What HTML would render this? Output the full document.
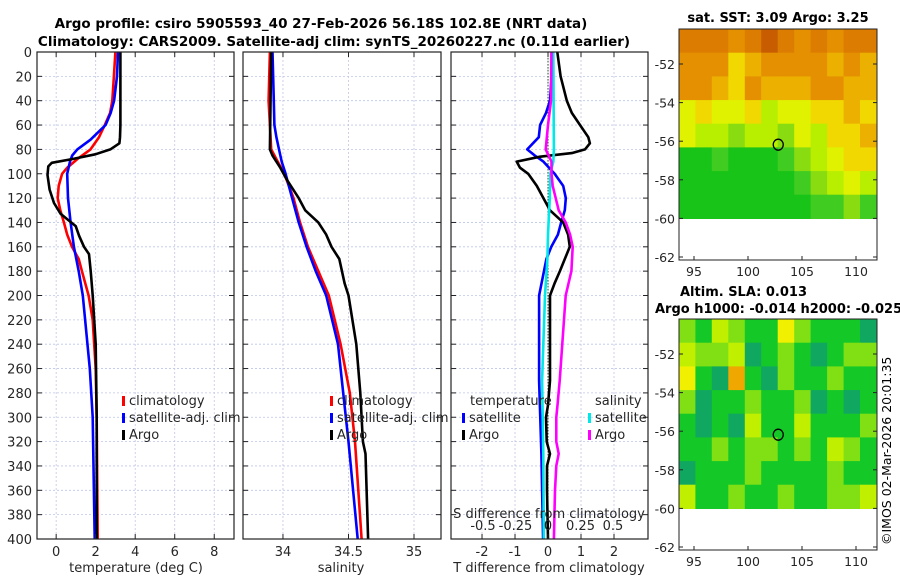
<!DOCTYPE html>
<html><head><meta charset="utf-8">
<style>
html,body{margin:0;padding:0;background:#fff;}
svg{display:block;font-family:"DejaVu Sans","Liberation Sans",sans-serif;}
</style></head>
<body>
<svg id="chart" width="900" height="580" viewBox="0 0 900 580" xmlns="http://www.w3.org/2000/svg">
<text x="321" y="28" text-anchor="middle" font-size="13.5" font-weight="bold">Argo profile: csiro 5905593_40 27-Feb-2026 56.18S 102.8E (NRT data)</text>
<text x="334" y="46" text-anchor="middle" font-size="13.5" font-weight="bold">Climatology: CARS2009. Satellite-adj clim: synTS_20260227.nc (0.11d earlier)</text>
<text x="778" y="22" text-anchor="middle" font-size="13" font-weight="bold">sat. SST: 3.09 Argo: 3.25</text>
<text x="680" y="296" font-size="13" font-weight="bold">Altim. SLA: 0.013</text>
<text x="655" y="313" font-size="13" font-weight="bold">Argo h1000: -0.014 h2000: -0.025</text>
<text transform="translate(891,545) rotate(-90)" font-size="12.5">©IMOS 02-Mar-2026 20:01:35</text>
<g id="plots"></g>
</svg>
<script>
// ---- data ----
const depthsT = [0,20,40,50,60,70,75,80,84,88,91,94,101,113,124,133,143,151,160,166,180,200,240,300,400];
const argoTemp = [3.25,3.25,3.25,3.25,3.25,3.23,3.2,2.74,1.98,0.8,-0.22,-0.4,-0.44,-0.33,-0.11,0.23,0.99,1.16,1.41,1.66,1.75,1.85,2.0,2.05,2.05];
const climDepths = [0,20,40,50,60,70,80,88,95,100,110,120,130,140,150,160,170,180,200,220,260,300,400];
const climTemp = [3.0,2.92,2.84,2.73,2.46,2.17,1.74,1.07,0.56,0.3,0.13,0.08,0.21,0.39,0.56,0.8,1.14,1.3,1.64,1.85,2.0,2.05,2.1];
const satDepths = [0,20,40,50,60,72,80,85,90,100,120,140,160,180,200,260,300,400];
const satTemp = [3.13,3.08,2.93,2.76,2.5,1.74,1.07,0.81,0.7,0.56,0.6,0.73,0.9,1.14,1.35,1.7,1.85,1.95];

const argoSalDepths = [0,80,85,95,105,120,130,140,150,160,170,190,200,240,280,320,330,400];
const argoSal = [33.91,33.9,33.92,33.98,34.03,34.12,34.17,34.27,34.33,34.37,34.43,34.47,34.5,34.56,34.59,34.61,34.63,34.65];
const climSalDepths = [0,40,80,90,100,120,140,160,180,200,240,280,320,400];
const climSal = [33.9,33.89,33.91,33.96,34.01,34.08,34.13,34.19,34.27,34.35,34.44,34.51,34.55,34.6];
const satSalDepths = [0,40,60,70,80,90,100,120,140,160,180,200,240,280,320,400];
const satSal = [33.92,33.93,33.935,33.95,33.97,33.99,34.02,34.07,34.12,34.18,34.25,34.33,34.42,34.46,34.5,34.57];

const diffDepthsA = [0,20,40,50,60,70,75,80,83,86,90,95,100,110,120,130,140,150,160,170,180,190,200,270,290,300,320,330,340,360,400];
const argoTDiff = [0.28,0.38,0.57,0.72,0.97,1.22,1.27,1.12,0.72,-0.24,-0.95,-0.85,-0.6,-0.34,-0.14,0.06,0.46,0.61,0.66,0.51,0.36,0.2,0.06,0.06,0,-0.06,-0.04,0.06,-0.03,-0.03,0];
const diffDepthsS = [0,40,60,80,90,100,110,130,140,150,160,180,200,270,290,300,320,330,340,360,400];
const argoSDiff = [0.027,0.023,0,-0.018,0.027,0.027,0.036,0.082,0.136,0.17,0.19,0.18,0.136,0.09,0.073,0.064,0.064,0.082,0.064,0.054,0.045];
const satSDepths = [0,40,80,90,100,120,150,170,200,270,330,400];
const satSDiff = [0.041,0.043,0.045,0.041,0.018,0.014,0,-0.005,-0.023,-0.045,-0.036,-0.032];
const satTDepths = [0,20,40,50,60,70,80,85,90,100,110,120,130,140,150,160,170,200,270,330,400];
const satTDiff = [0.11,0.11,0.06,-0.06,-0.24,-0.28,-0.63,-0.4,-0.14,0.2,0.46,0.54,0.51,0.4,0.3,0.1,-0.05,-0.27,-0.27,-0.2,-0.15];

const depthTicks = [0,20,40,60,80,100,120,140,160,180,200,220,240,260,280,300,320,340,360,380,400];
const tempTicks = [0,2,4,6,8];
const salTicks = [34,34.5,35];
const salTickLabels = ['34','34.5','35'];
const tdiffTicks = [-2,-1,0,1,2];
const sdiffTicks = [-0.5,-0.25,0,0.25,0.5];
const sdiffTickLabels = ['-0.5','-0.25','0','0.25','0.5'];
const lonTicks = [95,100,105,110];
const latTicks = [-52,-54,-56,-58,-60,-62];
const argoLon = 102.8, argoLat = -56.18;

const sstGrid = [
 [8,8,8,7,8,9,8,7,8,7,8,8],
 [7,7,7,5,6,7,7,7,7,6,7,6],
 [7,7,6,5,7,6,6,6,7,7,6,6],
 [4,5,4,4,5,3,4,4,5,5,6,5],
 [4,3,3,2,3,3,2,4,3,5,5,6],
 [0,0,1,0,0,0,1,2,3,4,5,5],
 [0,0,0,0,0,0,0,1,2,3,4,3],
 [0,0,0,0,0,0,0,0,1,1,2,1]];
const slaGrid = [
 [2,1,3,2,1,1,4,2,1,1,1,0],
 [3,2,2,3,0,1,2,1,0,1,2,2],
 [4,1,0,5,1,0,2,1,1,2,1,1],
 [2,0,1,1,2,1,1,2,0,1,0,1],
 [1,0,1,0,3,1,1,3,1,1,1,2],
 [1,1,2,1,2,2,1,2,1,3,2,1],
 [0,1,1,1,2,1,1,1,1,2,1,1],
 [3,1,1,2,1,1,2,1,1,2,2,3]];

// ---- drawing ----
const NS='http://www.w3.org/2000/svg';
const root=document.getElementById('plots');
function mk(tag,attrs,parent){const e=document.createElementNS(NS,tag);for(const k in attrs)e.setAttribute(k,attrs[k]);(parent||root).appendChild(e);return e;}
const Y0=52,Y1=539;
const yD=d=>Y0+(d/400)*(Y1-Y0);
function lin(d0,d1,r0,r1){return v=>r0+(v-d0)/(d1-d0)*(r1-r0);}

function panel(name,x0,x1,xs,ticks){
  const g=mk('g',{});
  
  
  depthTicks.forEach(d=>{const l=mk('line',{x1:x0,x2:x1,y1:yD(d),y2:yD(d),stroke:'#bcc6ea','stroke-width':0.8,'stroke-dasharray':'2,2'},g);});
  ticks.forEach(t=>{const l=mk('line',{x1:xs(t),x2:xs(t),y1:Y0,y2:Y1,stroke:'#c4c4e6','stroke-width':0.8,'stroke-dasharray':'2,2'},g);});
  return g;
}
function frame(g,x0,x1,xs,ticks,labels,showY,labelY){
  const r=mk('rect',{x:x0,y:Y0,width:x1-x0,height:Y1-Y0,fill:'none',stroke:'#222','stroke-width':1.2},g);
  
  depthTicks.forEach(d=>{
    mk('line',{x1:x0,x2:x0+5,y1:yD(d),y2:yD(d),stroke:'#222'},g);
    mk('line',{x1:x1-5,x2:x1,y1:yD(d),y2:yD(d),stroke:'#222'},g);
    if(showY){const t=mk('text',{x:x0-5,y:yD(d)+5,'text-anchor':'end','font-size':13,fill:'#262626'},g);t.textContent=d;}
  });
  ticks.forEach((v,i)=>{
    mk('line',{x1:xs(v),x2:xs(v),y1:Y0,y2:Y0+5,stroke:'#222'},g);
    mk('line',{x1:xs(v),x2:xs(v),y1:Y1-5,y2:Y1,stroke:'#222'},g);
    const t=mk('text',{x:xs(v),y:labelY,'text-anchor':'middle','font-size':13,fill:'#262626'},g);t.textContent=labels[i];
    
  });
}
function line(g,name,xs,vals,depths,color){
  const pts=vals.map((v,i)=>xs(v).toFixed(1)+','+yD(depths[i]).toFixed(1)).join(' ');
  const p=mk('polyline',{points:pts,fill:'none',stroke:color,'stroke-width':2.6,'stroke-linejoin':'round'},g);
  
}
function txt(g,name,x,y,s,size,anchor){const t=mk('text',{x:x,y:y,'font-size':size||13,fill:'#262626','text-anchor':anchor||'start'},g);t.textContent=s;return t;}
function legend(g,x,y,color,label){
  const r=mk('rect',{x:x,y:y-9,width:3,height:10,fill:color},g);
  txt(g,'legend-label',x+7,y,label);
}

// Panel 1: temperature
const xT=lin(-0.97,9,37,234);
let g1=panel('temperature-panel',37,234,xT,tempTicks);
line(g1,'temp-climatology',xT,climTemp,climDepths,'#ff0000');
line(g1,'temp-satellite-adj',xT,satTemp,satDepths,'#0000ff');
line(g1,'temp-argo',xT,argoTemp,depthsT,'#000000');
frame(g1,37,234,xT,tempTicks,tempTicks.map(String),true,556);
txt(g1,'temp-x-axis-title',136,572,'temperature (deg C)',13,'middle');
legend(g1,122,405,'#ff0000','climatology');legend(g1,122,422,'#0000ff','satellite-adj. clim');legend(g1,122,439,'#000000','Argo');

// Panel 2: salinity
const xS=lin(33.695,35.206,243,441);
let g2=panel('salinity-panel',243,441,xS,salTicks);
line(g2,'sal-climatology',xS,climSal,climSalDepths,'#ff0000');
line(g2,'sal-satellite-adj',xS,satSal,satSalDepths,'#0000ff');
line(g2,'sal-argo',xS,argoSal,argoSalDepths,'#000000');
frame(g2,243,441,xS,salTicks,salTickLabels,false,556);
txt(g2,'sal-x-axis-title',341,572,'salinity',13,'middle');
legend(g2,330,405,'#ff0000','climatology');legend(g2,330,422,'#0000ff','satellite-adj. clim');legend(g2,330,439,'#000000','Argo');

// Panel 3: differences
const xTd=lin(-2.94,3.03,451,648);
const xSd=lin(-0.5,0.5,483,613);
let g3=panel('difference-panel',451,648,xTd,tdiffTicks);
mk('line',{x1:xTd(0),x2:xTd(0),y1:Y0,y2:Y1,stroke:'#305030','stroke-width':1,'stroke-dasharray':'1.5,1.5'},g3);
line(g3,'tdiff-satellite',xTd,satTDiff,satTDepths,'#0000ff');
line(g3,'tdiff-argo',xTd,argoTDiff,diffDepthsA,'#000000');
line(g3,'sdiff-satellite',xSd,satSDiff,satSDepths,'#00e8e8');
line(g3,'sdiff-argo',xSd,argoSDiff,diffDepthsS,'#ff00ff');
frame(g3,451,648,xTd,tdiffTicks,tdiffTicks.map(String),false,556);
sdiffTicks.forEach((v,i)=>txt(g3,'sdiff-tick-label',xSd(v),530,sdiffTickLabels[i],13,'middle'));
txt(g3,'sdiff-axis-title',549,518,'S difference from climatology',13,'middle');
txt(g3,'tdiff-x-axis-title',549,572,'T difference from climatology',13,'middle');
txt(g3,'legend-temperature-header',470,405,'temperature');
legend(g3,462,422,'#0000ff','satellite');legend(g3,462,439,'#000000','Argo');
txt(g3,'legend-salinity-header',595,405,'salinity');
legend(g3,588,422,'#00e8e8','satellite');legend(g3,588,439,'#ff00ff','Argo');

// Maps
const sstColors=['#18c418','#40cc20','#88dc10','#b8ee00','#e0f200','#f0d800','#ecb000','#e49000','#dc7c00','#c85c00'];
const slaColors=['#10a860','#14c828','#80e014','#c0f000','#f0f000','#f0a800','#e07000'];
function map(name,top,grid,colors){
  const g=mk('g',{});
  const L=679,R=877,B=top+231;
  const xL=lin(95,110,694,856);
  const yL=lin(-52,-62,top+35,top+228);
  const lon0=93.6, lon1=111.9, lat0=-50.19, lat1=-60;
  const nr=grid.length,nc=grid[0].length;
  grid.forEach((row,ri)=>row.forEach((v,ci)=>{
    const xa=xL(lon0+(lon1-lon0)*ci/nc), xb=xL(lon0+(lon1-lon0)*(ci+1)/nc);
    const ya=yL(lat0+(lat1-lat0)*ri/nr), yb=yL(lat0+(lat1-lat0)*(ri+1)/nr);
    const c=mk('rect',{x:xa.toFixed(1),y:ya.toFixed(1),width:(xb-xa+0.6).toFixed(1),height:(yb-ya+0.6).toFixed(1),fill:colors[v]},g);
    
  }));
  const f=mk('rect',{x:L,y:top,width:R-L,height:B-top,fill:'none',stroke:'#222','stroke-width':1},g);
  
  latTicks.forEach(lat=>{
    mk('line',{x1:R-4,x2:R,y1:yL(lat),y2:yL(lat),stroke:'#222'},g);
    mk('line',{x1:L,x2:L+4,y1:yL(lat),y2:yL(lat),stroke:'#222'},g);
    txt(g,'lat-tick-label',L-4,yL(lat)+5,String(lat),12.5,'end');
  });
  lonTicks.forEach(lon=>{
    mk('line',{x1:xL(lon),x2:xL(lon),y1:B-4,y2:B,stroke:'#222'},g);
    txt(g,'lon-tick-label',xL(lon),B+16,String(lon),12.5,'middle');
  });
  const m=mk('ellipse',{cx:xL(argoLon),cy:yL(argoLat),rx:5,ry:5.5,fill:'none',stroke:'#000','stroke-width':1.3},g);
  
}
map('sst-map',29,sstGrid,sstColors);
map('sla-map',319,slaGrid,slaColors);
</script>
</body></html>
